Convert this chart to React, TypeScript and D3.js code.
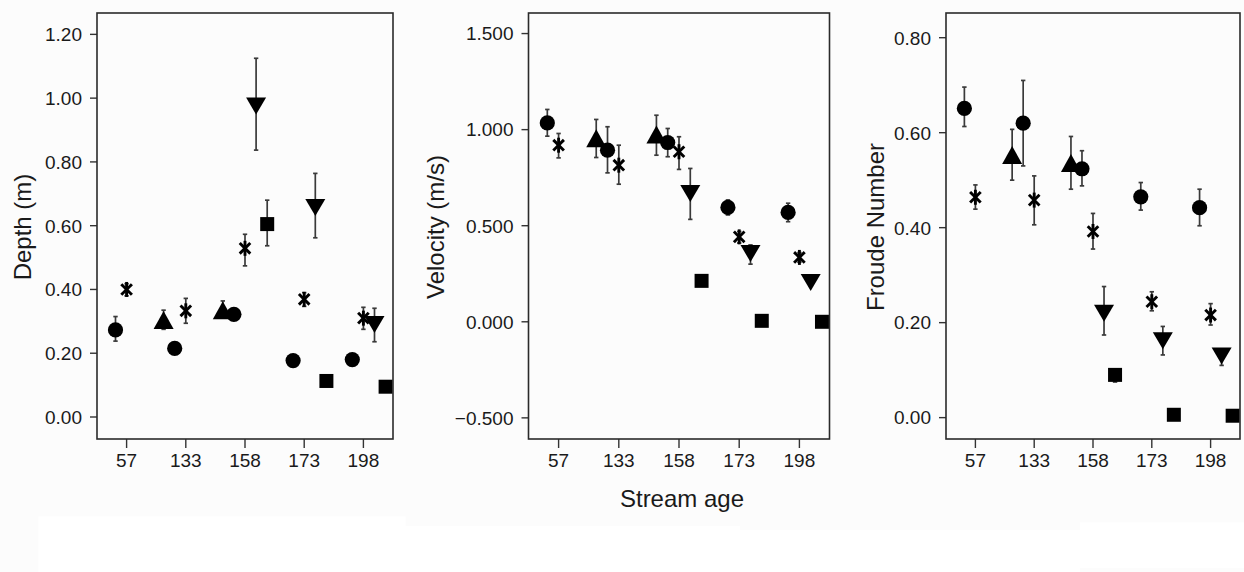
import React from 'react';
import * as d3 from 'd3';

// ---------- data ----------
const categories = ['57', '133', '158', '173', '198'];
const seriesNames = ['triangle', 'circle', 'asterisk', 'triangleDown', 'square'];

type Pt = [number, number, number] | null; // [mean, lower, upper]

// Depth (m)
const depthTriangle: Pt[] = [null, [0.304, 0.275, 0.335], [0.335, 0.31, 0.364], null, null];
const depthCircle: Pt[] = [[0.273, 0.238, 0.315], [0.215, 0.205, 0.225], [0.322, 0.312, 0.332], [0.177, 0.168, 0.186], [0.18, 0.17, 0.19]];
const depthAsterisk: Pt[] = [[0.4, 0.38, 0.418], [0.333, 0.294, 0.372], [0.529, 0.474, 0.573], [0.369, 0.347, 0.39], [0.31, 0.275, 0.344]];
const depthTriangleDown: Pt[] = [null, null, [0.975, 0.837, 1.125], [0.657, 0.562, 0.764], [0.29, 0.236, 0.341]];
const depthSquare: Pt[] = [null, null, [0.605, 0.537, 0.68], [0.113, 0.108, 0.118], [0.095, 0.09, 0.1]];

// Velocity (m/s)
const velTriangle: Pt[] = [null, [0.955, 0.855, 1.053], [0.975, 0.867, 1.075], null, null];
const velCircle: Pt[] = [[1.035, 0.966, 1.105], [0.893, 0.775, 1.015], [0.933, 0.859, 1.006], [0.595, 0.556, 0.634], [0.569, 0.521, 0.617]];
const velAsterisk: Pt[] = [[0.919, 0.853, 0.98], [0.815, 0.716, 0.919], [0.885, 0.793, 0.963], [0.442, 0.41, 0.47], [0.335, 0.31, 0.36]];
const velTriangleDown: Pt[] = [null, null, [0.668, 0.533, 0.798], [0.355, 0.3, 0.4], [0.204, 0.198, 0.21]];
const velSquare: Pt[] = [null, null, [0.213, 0.19, 0.235], [0.005, 0.0, 0.01], [0.0, -0.005, 0.005]];

// Froude Number
const frTriangle: Pt[] = [null, [0.553, 0.5, 0.607], [0.536, 0.481, 0.592], null, null];
const frCircle: Pt[] = [[0.651, 0.613, 0.696], [0.62, 0.53, 0.71], [0.524, 0.488, 0.562], [0.465, 0.437, 0.495], [0.442, 0.404, 0.481]];
const frAsterisk: Pt[] = [[0.464, 0.439, 0.49], [0.458, 0.406, 0.509], [0.392, 0.355, 0.43], [0.244, 0.225, 0.265], [0.216, 0.195, 0.24]];
const frTriangleDown: Pt[] = [null, null, [0.22, 0.174, 0.276], [0.162, 0.132, 0.192], [0.13, 0.11, 0.142]];
const frSquare: Pt[] = [null, null, [0.09, 0.075, 0.1], [0.006, 0.002, 0.01], [0.004, 0.0, 0.008]];

const depthTicks = [0, 0.2, 0.4, 0.6, 0.8, 1.0, 1.2];
const velTicks = [-0.5, 0, 0.5, 1.0, 1.5];
const frTicks = [0, 0.2, 0.4, 0.6, 0.8];

const depthTitle = 'Depth (m)';
const velTitle = 'Velocity (m/s)';
const frTitle = 'Froude Number';
const xTitle = 'Stream age';

// ---------- layout ----------
const W = 1244;
const H = 572;
const TOP = 13;
const BOTTOM = 439;
const FONT = '"Liberation Sans", Arial, Helvetica, sans-serif';
const TEXT = '#1a1a1a';

const panels = [
  {
    title: depthTitle, ticks: depthTicks, fmt: '.2f', domain: [-0.069, 1.267],
    left: 97, right: 393, titleX: 30.5,
    data: [depthTriangle, depthCircle, depthAsterisk, depthTriangleDown, depthSquare],
  },
  {
    title: velTitle, ticks: velTicks, fmt: '.3f', domain: [-0.61, 1.607],
    left: 528.5, right: 829.5, titleX: 443.5,
    data: [velTriangle, velCircle, velAsterisk, velTriangleDown, velSquare],
  },
  {
    title: frTitle, ticks: frTicks, fmt: '.2f', domain: [-0.045, 0.852],
    left: 946, right: 1240, titleX: 884,
    data: [frTriangle, frCircle, frAsterisk, frTriangleDown, frSquare],
  },
];

function Marker({ kind, x, y }: { kind: string; x: number; y: number }) {
  const fill = '#000';
  if (kind === 'circle') return <circle cx={x} cy={y} r={7.6} fill={fill} />;
  if (kind === 'square') return <rect x={x - 7} y={y - 7} width={14} height={14} fill={fill} />;
  if (kind === 'triangle') {
    const w = 20, h = 18;
    return <path d={`M${x},${y - h / 2}L${x + w / 2},${y + h / 2}L${x - w / 2},${y + h / 2}Z`} fill={fill} />;
  }
  if (kind === 'triangleDown') {
    const w = 20, h = 17;
    return <path d={`M${x},${y + h / 2}L${x + w / 2},${y - h / 2}L${x - w / 2},${y - h / 2}Z`} fill={fill} />;
  }
  // asterisk
  const r = 7.5;
  const dx = r * Math.sin((45 * Math.PI) / 180);
  const dy = r * Math.cos((45 * Math.PI) / 180);
  return (
    <g stroke={fill} strokeWidth={2.9} strokeLinecap="butt">
      <line x1={x} y1={y - r} x2={x} y2={y + r} />
      <line x1={x - dx} y1={y - dy} x2={x + dx} y2={y + dy} />
      <line x1={x - dx} y1={y + dy} x2={x + dx} y2={y - dy} />
    </g>
  );
}

function Panel({ p }: { p: (typeof panels)[number] }) {
  const x = d3.scaleBand<string>().domain(categories).range([p.left, p.right]).padding(0);
  const bw = x.bandwidth();
  const off = d3.scalePoint<string>().domain(seriesNames).range([-0.375 * bw, 0.375 * bw]);
  const y = d3.scaleLinear().domain(p.domain).range([BOTTOM, TOP]);
  const f = d3.format(p.fmt);
  const midY = (TOP + BOTTOM) / 2 + 1;

  const items: { kind: string; cx: number; v: [number, number, number] }[] = [];
  p.data.forEach((arr, si) => {
    arr.forEach((v, ci) => {
      if (v) items.push({ kind: seriesNames[si], cx: (x(categories[ci]) as number) + bw / 2 + (off(seriesNames[si]) as number), v });
    });
  });

  return (
    <g>
      {p.ticks.map((t) => (
        <g key={t}>
          <line x1={p.left - 7} x2={p.left} y1={y(t)} y2={y(t)} stroke="#333" strokeWidth={1.4} />
          <text x={p.left - 15} y={y(t)} dy="0.36em" textAnchor="end" fontSize={19} fill={TEXT} fontFamily={FONT}>
            {f(t)}
          </text>
        </g>
      ))}
      {categories.map((c) => {
        const cx = (x(c) as number) + bw / 2;
        return (
          <g key={c}>
            <line x1={cx} x2={cx} y1={BOTTOM} y2={BOTTOM + 9} stroke="#333" strokeWidth={1.4} />
            <text x={cx} y={467} textAnchor="middle" fontSize={19} fill={TEXT} fontFamily={FONT}>
              {c}
            </text>
          </g>
        );
      })}
      {items.map((it, i) => (
        <g key={'e' + i} stroke="#3a3a3a" strokeWidth={1.7}>
          <line x1={it.cx} x2={it.cx} y1={y(it.v[1])} y2={y(it.v[2])} />
          <line x1={it.cx - 2.2} x2={it.cx + 2.2} y1={y(it.v[1])} y2={y(it.v[1])} />
          <line x1={it.cx - 2.2} x2={it.cx + 2.2} y1={y(it.v[2])} y2={y(it.v[2])} />
        </g>
      ))}
      {items.map((it, i) => (
        <Marker key={'m' + i} kind={it.kind} x={it.cx} y={y(it.v[0])} />
      ))}
      <rect x={p.left} y={TOP} width={p.right - p.left} height={BOTTOM - TOP} fill="none" stroke="#2a2a2a" strokeWidth={1.6} />
      <text
        transform={`translate(${p.titleX},${midY}) rotate(-90)`}
        textAnchor="middle"
        fontSize={24}
        fill={TEXT}
        fontFamily={FONT}
      >
        {p.title}
      </text>
    </g>
  );
}

export default function App() {
  return (
    <svg
      width={W}
      height={H}
      viewBox={`0 0 ${W} ${H}`}
      style={{ position: 'fixed', left: 0, top: 0, display: 'block' }}
    >
      <rect x={0} y={0} width={W} height={H} fill="#fcfcfc" />
      <rect x={38.5} y={516.5} width={367} height={H - 516.5} fill="#ffffff" />
      <rect x={405} y={526} width={335} height={H - 526} fill="#ffffff" />
      <rect x={740} y={530} width={340} height={H - 530} fill="#ffffff" />
      <rect x={1080} y={522.5} width={164} height={45.5} fill="#ffffff" />
      {panels.map((p, i) => (
        <Panel key={i} p={p} />
      ))}
      <text x={682} y={507} textAnchor="middle" fontSize={24} fill={TEXT} fontFamily={FONT}>
        {xTitle}
      </text>
    </svg>
  );
}
